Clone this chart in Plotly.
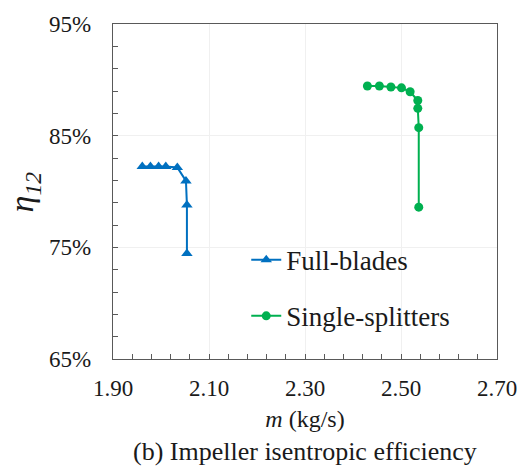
import plotly.graph_objects as go

full_m = [1.961, 1.978, 1.995, 2.010, 2.034, 2.052, 2.054, 2.054]
full_eta = [82.25, 82.25, 82.25, 82.25, 82.16, 80.95, 78.78, 74.45]

split_m = [2.430, 2.455, 2.479, 2.501, 2.519, 2.535, 2.535, 2.537, 2.537]
split_eta = [89.45, 89.45, 89.36, 89.28, 88.93, 88.15, 87.45, 85.72, 78.6]

x_ticks = [1.90, 2.10, 2.30, 2.50, 2.70]
y_ticks = [65, 75, 85, 95]

FONT = "Liberation Serif"
BLUE = "#0070C0"
GREEN = "#00B050"
TXT = "#1a1a1a"

fig = go.Figure()
fig.add_trace(go.Scatter(
    x=full_m, y=full_eta, mode="lines+markers", name="Full-blades",
    legendgroup="a",
    line=dict(color=BLUE, width=2),
    marker=dict(symbol="triangle-up", size=10, color=BLUE)))
fig.add_trace(go.Scatter(
    x=split_m, y=split_eta, mode="lines+markers", name="Single-splitters",
    legendgroup="b",
    line=dict(color=GREEN, width=2),
    marker=dict(symbol="circle", size=9, color=GREEN)))

axis_common = dict(
    showline=True, linecolor="#595959", linewidth=1.3, mirror=True,
    ticks="inside", ticklen=5, tickcolor="#595959",
    showgrid=True, gridcolor="#f0f0f0", gridwidth=1,
    zeroline=False,
    ticklabeloverflow="allow",
)

fig.update_layout(
    width=529, height=475,
    margin=dict(l=113, r=20, t=13, b=116),
    paper_bgcolor="white", plot_bgcolor="white",
    font=dict(family=FONT, size=22, color=TXT),
    xaxis=dict(
        range=[1.90, 2.70], tickvals=x_ticks,
        ticktext=[f"{v:.2f}" for v in x_ticks],
        ticklabelstandoff=8,
        tickfont=dict(family=FONT, size=23, color=TXT),
        minor=dict(dtick=0.04, tick0=1.90, ticks="inside", ticklen=5,
                   tickcolor="#595959", showgrid=False),
        title=dict(text="<i>m</i> (kg/s)", font=dict(family=FONT, size=24, color=TXT),
                   standoff=10),
        **axis_common),
    yaxis=dict(
        range=[65, 95], tickvals=y_ticks,
        ticktext=[f"{v}%" for v in y_ticks],
        ticklabelstandoff=16,
        tickfont=dict(family=FONT, size=23, color=TXT),
        minor=dict(dtick=2, tick0=65, ticks="inside", ticklen=5,
                   tickcolor="#595959", showgrid=False),
        **axis_common),
    showlegend=True,
    legend=dict(x=0.347, y=0.368, xanchor="left", yanchor="top",
                font=dict(family=FONT, size=27, color=TXT),
                tracegroupgap=18, bgcolor="rgba(0,0,0,0)"),
)

fig.add_annotation(
    text="<i>η</i><sub><i>12</i></sub>", xref="paper", yref="paper",
    x=-0.232, y=0.5, xanchor="center", yanchor="middle", textangle=-90,
    showarrow=False, font=dict(family=FONT, size=34, color=TXT))

fig.add_annotation(
    text="(b) Impeller isentropic efficiency", xref="paper", yref="paper",
    x=0.5, y=-0.228, xanchor="center", yanchor="top",
    showarrow=False, font=dict(family=FONT, size=26, color=TXT))

fig.write_html("out.html")
